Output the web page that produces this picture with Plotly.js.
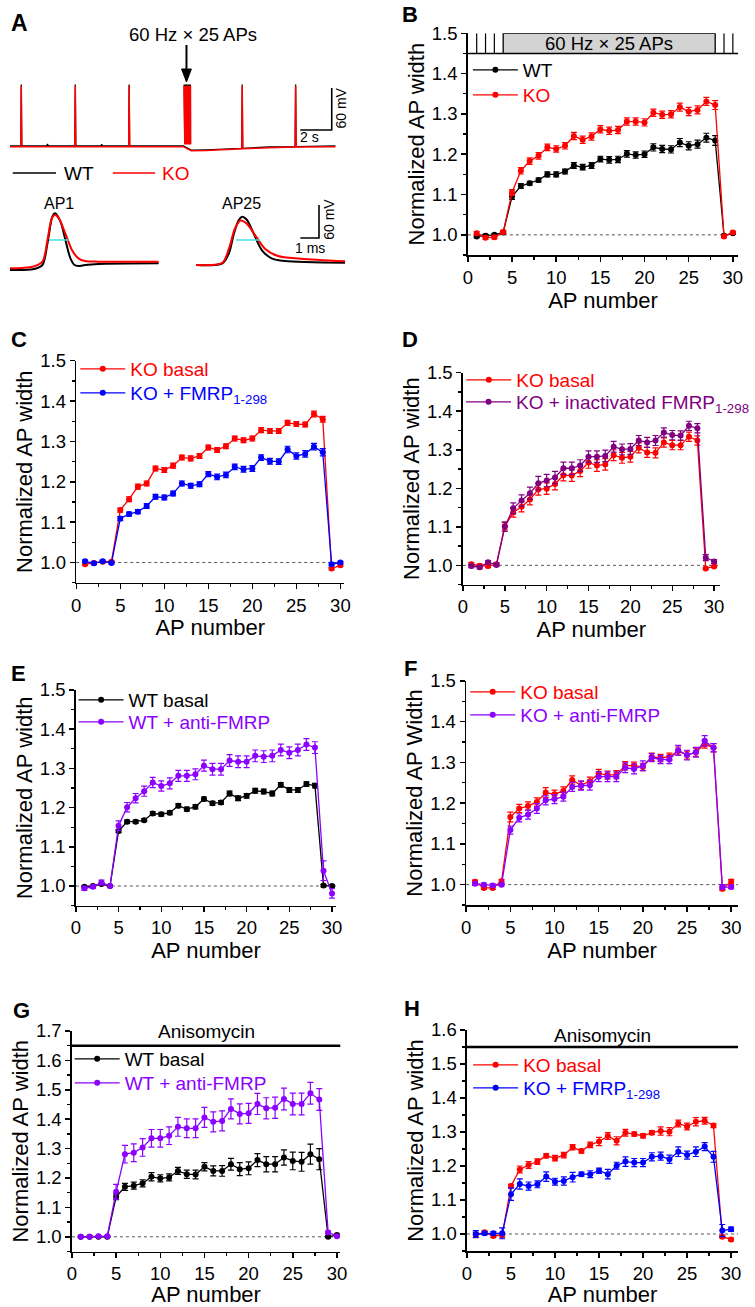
<!DOCTYPE html>
<html><head><meta charset="utf-8">
<script src="https://cdn.plot.ly/plotly-3.0.1.min.js"></script>
<style>html,body{margin:0;padding:0;background:#fff}#chart{width:755px;height:1307px}</style>
</head><body><div id="chart"></div>
<script>
// ================= DATA =================
const apNumber = [1,2,3,4,5,6,7,8,9,10,11,12,13,14,15,16,17,18,19,20,21,22,23,24,25,26,27,28,29,30];

// B
const bWT    = [0.996,0.998,1.000,1.006,1.095,1.121,1.128,1.136,1.150,1.150,1.157,1.172,1.168,1.172,1.188,1.186,1.187,1.201,1.198,1.200,1.217,1.213,1.212,1.229,1.221,1.225,1.241,1.234,0.998,1.004];
const bWTErr = [0.003,0.003,0.003,0.003,0.007,0.006,0.005,0.005,0.006,0.006,0.006,0.007,0.007,0.007,0.007,0.008,0.008,0.008,0.008,0.008,0.009,0.009,0.009,0.010,0.010,0.010,0.011,0.012,0.003,0.003];
const bKO    = [1.004,0.993,0.994,1.007,1.105,1.159,1.183,1.196,1.217,1.213,1.221,1.245,1.236,1.244,1.262,1.258,1.260,1.281,1.281,1.279,1.303,1.298,1.299,1.317,1.306,1.310,1.331,1.322,0.996,1.006];
const bKOErr = [0.004,0.004,0.004,0.004,0.007,0.008,0.008,0.008,0.008,0.008,0.008,0.009,0.009,0.009,0.009,0.009,0.009,0.009,0.009,0.009,0.009,0.009,0.009,0.010,0.010,0.010,0.010,0.011,0.003,0.003];
const stimSingles = [1,2,3,29,30];
const stimTrain = [4,28];

// C
const cKO    = [0.996,0.999,1.002,1.002,1.130,1.157,1.188,1.196,1.233,1.229,1.240,1.260,1.258,1.264,1.285,1.279,1.288,1.307,1.303,1.307,1.328,1.326,1.326,1.346,1.343,1.342,1.368,1.355,0.985,0.993];
const cKOErr = [0.003,0.003,0.003,0.003,0.005,0.006,0.006,0.006,0.006,0.006,0.006,0.006,0.006,0.006,0.006,0.006,0.006,0.006,0.006,0.006,0.006,0.006,0.006,0.006,0.006,0.006,0.007,0.007,0.003,0.003];
const cFM    = [1.003,0.998,1.003,0.999,1.109,1.120,1.126,1.140,1.163,1.161,1.171,1.196,1.190,1.194,1.219,1.212,1.217,1.237,1.231,1.233,1.260,1.251,1.250,1.280,1.264,1.269,1.287,1.273,0.996,1.000];
const cFMErr = [0.003,0.003,0.003,0.003,0.005,0.005,0.005,0.006,0.006,0.006,0.006,0.006,0.006,0.006,0.006,0.007,0.007,0.007,0.007,0.007,0.007,0.007,0.007,0.008,0.008,0.008,0.008,0.009,0.004,0.003];

// D
const dKO    = [1.003,0.999,0.998,1.003,1.102,1.137,1.152,1.171,1.197,1.199,1.211,1.234,1.233,1.245,1.267,1.259,1.262,1.286,1.279,1.282,1.305,1.293,1.292,1.319,1.312,1.312,1.334,1.324,0.992,0.997];
const dKOErr = [0.004,0.004,0.004,0.004,0.010,0.012,0.013,0.014,0.015,0.015,0.015,0.015,0.015,0.015,0.015,0.015,0.015,0.014,0.014,0.014,0.013,0.013,0.013,0.012,0.012,0.012,0.012,0.012,0.003,0.003];
const dIN    = [0.998,0.995,1.008,1.001,1.100,1.148,1.168,1.187,1.213,1.220,1.228,1.252,1.252,1.259,1.282,1.282,1.284,1.308,1.301,1.302,1.324,1.319,1.324,1.345,1.338,1.337,1.362,1.356,1.020,1.010];
const dINErr = [0.004,0.004,0.004,0.004,0.012,0.014,0.015,0.016,0.018,0.016,0.016,0.016,0.016,0.015,0.015,0.015,0.015,0.014,0.014,0.014,0.013,0.013,0.013,0.012,0.012,0.012,0.012,0.012,0.008,0.005];

// E
const eWT    = [0.998,1.000,1.005,1.000,1.140,1.164,1.164,1.168,1.185,1.183,1.187,1.205,1.196,1.202,1.222,1.211,1.213,1.236,1.224,1.230,1.243,1.241,1.236,1.258,1.245,1.245,1.260,1.256,1.001,1.000];
const eWTErr = [0.003,0.003,0.003,0.003,0.004,0.004,0.004,0.004,0.005,0.005,0.005,0.005,0.005,0.005,0.005,0.005,0.005,0.006,0.006,0.006,0.006,0.006,0.006,0.006,0.006,0.006,0.006,0.006,0.003,0.003];
const eAF    = [0.994,0.998,1.009,1.000,1.154,1.201,1.224,1.242,1.264,1.255,1.262,1.281,1.281,1.285,1.307,1.298,1.298,1.320,1.317,1.317,1.332,1.330,1.332,1.347,1.340,1.347,1.361,1.353,1.039,0.981];
const eAFErr = [0.005,0.004,0.006,0.003,0.012,0.012,0.012,0.013,0.013,0.013,0.014,0.014,0.014,0.014,0.014,0.015,0.015,0.015,0.015,0.015,0.015,0.015,0.015,0.015,0.015,0.015,0.015,0.015,0.025,0.012];

// F
const fKO    = [1.007,0.992,0.992,1.008,1.166,1.187,1.193,1.203,1.226,1.222,1.230,1.257,1.244,1.254,1.273,1.269,1.270,1.292,1.292,1.289,1.314,1.311,1.314,1.328,1.318,1.325,1.345,1.336,0.990,1.007];
const fKOErr = [0.004,0.004,0.004,0.005,0.012,0.010,0.010,0.010,0.012,0.010,0.010,0.010,0.010,0.010,0.010,0.010,0.010,0.010,0.009,0.009,0.009,0.009,0.009,0.010,0.010,0.010,0.010,0.010,0.005,0.006];
const fAF    = [1.002,1.000,0.998,1.000,1.134,1.164,1.172,1.187,1.207,1.210,1.216,1.240,1.243,1.244,1.265,1.265,1.265,1.287,1.284,1.292,1.312,1.307,1.307,1.330,1.318,1.325,1.353,1.336,0.994,0.994];
const fAFErr = [0.004,0.004,0.004,0.004,0.010,0.010,0.011,0.012,0.011,0.011,0.011,0.011,0.011,0.012,0.012,0.012,0.012,0.012,0.012,0.012,0.010,0.010,0.010,0.012,0.012,0.012,0.013,0.010,0.006,0.004];

// G
const gWT    = [1.000,1.000,1.000,1.000,1.136,1.170,1.174,1.182,1.204,1.199,1.202,1.224,1.213,1.212,1.238,1.224,1.224,1.247,1.230,1.233,1.261,1.247,1.247,1.270,1.258,1.255,1.281,1.264,1.000,1.006];
const gWTErr = [0.002,0.002,0.002,0.002,0.010,0.012,0.012,0.012,0.014,0.012,0.012,0.012,0.014,0.015,0.014,0.017,0.018,0.020,0.022,0.022,0.022,0.026,0.026,0.026,0.030,0.032,0.034,0.036,0.003,0.003];
const gAF    = [1.000,1.000,1.002,1.002,1.153,1.281,1.286,1.304,1.335,1.335,1.344,1.374,1.369,1.369,1.406,1.391,1.394,1.435,1.418,1.420,1.452,1.437,1.439,1.469,1.452,1.452,1.488,1.467,1.015,1.002];
const gAFErr = [0.002,0.002,0.002,0.002,0.025,0.030,0.030,0.030,0.030,0.030,0.030,0.032,0.032,0.032,0.034,0.034,0.034,0.034,0.034,0.034,0.036,0.036,0.036,0.037,0.037,0.037,0.037,0.037,0.004,0.003];
const gDrugLevel = 1.65;

// H
const hKO    = [0.997,1.005,0.994,0.997,1.141,1.190,1.203,1.213,1.230,1.223,1.232,1.255,1.244,1.262,1.272,1.288,1.274,1.298,1.294,1.289,1.298,1.303,1.301,1.325,1.316,1.330,1.333,1.319,0.992,0.984];
const hKOErr = [0.008,0.004,0.004,0.006,0.005,0.010,0.010,0.008,0.006,0.008,0.008,0.008,0.006,0.008,0.012,0.010,0.012,0.010,0.006,0.006,0.006,0.012,0.012,0.010,0.010,0.012,0.010,0.006,0.004,0.004];
const hFM    = [1.000,1.002,1.002,1.002,1.117,1.147,1.141,1.146,1.169,1.154,1.156,1.167,1.176,1.176,1.186,1.176,1.201,1.213,1.210,1.210,1.227,1.229,1.220,1.242,1.232,1.242,1.257,1.227,1.010,1.014];
const hFMErr = [0.010,0.005,0.005,0.016,0.018,0.015,0.012,0.010,0.014,0.010,0.012,0.014,0.006,0.010,0.008,0.014,0.010,0.014,0.012,0.012,0.012,0.012,0.012,0.014,0.012,0.014,0.012,0.016,0.018,0.006];
const hDrugLevel = 1.55;

// A: membrane potential recordings (time s, mV)
const wtTraceT = [0,0.70,0.73,0.76,2.35,2.40,2.45,4.14,4.17,4.20,5.80,5.85,5.90,7.57,7.60,7.63,11.05,11.55,12.5,13.9,14.77,14.80,14.83,16.5,18.17,18.20,18.23,20.75];
const wtTraceV = [-64,-64,24,-64,-64,-61,-64,-64,24,-64,-64,-61.5,-64,-64,24,-64,-64,-70,-69.5,-68,-67.3,24,-67.3,-65.5,-64.8,24,-64.8,-64];
const koTraceT = [0,0.70,0.73,0.76,4.14,4.17,4.20,7.57,7.60,7.63,11.05,11.55,12.5,13.9,14.77,14.80,14.83,16.5,18.17,18.20,18.23,20.75];
const koTraceV = [-65,-65,22,-65,-65,22,-65,-65,22,-65,-65,-71,-70.5,-69,-68,22,-68,-66.5,-65.5,22,-65.5,-65];
const burstT = [11.100,11.117,11.133,11.150,11.167,11.183,11.200,11.217,11.233,11.250,11.267,11.283,11.300,11.317,11.333,11.350,11.367,11.383,11.400,11.417,11.433,11.450,11.467,11.483,11.500];
const burstPeak = 22, burstTrough = -62;
// A: single APs (time ms, mV)
const ap1WT_t = [0,1.23,1.75,2.02,2.28,2.42,2.72,2.98,3.25,3.47,3.68,4.04,4.74,7.98];
const ap1WT_v = [-73.6,-72.4,-64.5,-25.1,23.3,29.4,14.2,-19.1,-52.4,-64.5,-66.4,-64.5,-62.7,-61.5];
const ap1KO_t = [0,1.23,1.75,2.02,2.25,2.42,2.63,2.98,3.33,3.68,4.04,4.74,7.98];
const ap1KO_v = [-70.6,-67.6,-58.5,-19.1,20.3,26.4,20.3,-7.3,-37.3,-52.4,-57.3,-58.5,-58.5];
const ap25WT_t = [0,1.40,1.75,2.02,2.28,2.46,2.72,3.07,3.51,4.04,4.74,7.98];
const ap25WT_v = [-64.5,-61.5,-43.3,-7.0,17.3,23.3,17.3,-7.0,-37.3,-52.4,-57.3,-60.4];
const ap25KO_t = [0,1.40,1.75,2.07,2.37,2.72,3.16,3.68,4.38,5.61,7.98];
const ap25KO_v = [-64.5,-60.4,-34.8,1.5,16.2,10.2,-10.6,-34.8,-48.2,-53.0,-57.9];
const ap1HalfT = [2.10,3.16], ap25HalfT = [2.14,3.42], halfV = -19.1;
const scaleTop = {s:2, mV:60};
const scaleAP = {ms:1, mV:60};

// ================= LAYOUT HELPERS =================
const W = 755, H = 1307;
const fx = p => p / W;
const fy = p => 1 - p / H;
const FONT = 'Liberation Sans, Arial, Helvetica, sans-serif';
const RED='#ff0000', BLACK='#000000', BLUE='#0000ff', PURPLE='#800080', VIOLET='#8b00ff', CYAN='#3fe3e3';

const panels = [
  {letter:'B', lx:418, ly:14, left:476.7, ppu:9.0, right:752, top:33.3, bottom:255, ymax:1.5, ytitle:'Normalized AP width',
   series:[{name:'WT', y:bWT, e:bWTErr, c:BLACK, ly:70},{name:'KO', y:bKO, e:bKOErr, c:RED, ly:95}], legx:481.7},
  {letter:'C', lx:19, ly:340, left:77.7, ppu:8.97, right:350.7, top:360.7, bottom:582.7, ymax:1.5, ytitle:'Normalized AP width',
   series:[{name:'KO basal', y:cKO, e:cKOErr, c:RED, ly:369},{name:'KO + FMRP<sub>1-298</sub>', y:cFM, e:cFMErr, c:BLUE, ly:393}], legx:81.7},
  {letter:'D', lx:418, ly:340, left:471.7, ppu:8.53, right:733.3, top:372.7, bottom:584.6, ymax:1.5, ytitle:'Normalized AP width',
   series:[{name:'KO basal', y:dKO, e:dKOErr, c:RED, ly:380},{name:'KO + inactivated FMRP<sub>1-298</sub>', y:dIN, e:dINErr, c:PURPLE, ly:402}], legx:475},
  {letter:'E', lx:19, ly:673, left:77.3, ppu:8.7, right:342.5, top:690, bottom:905.6, ymax:1.5, ytitle:'Normalized AP width',
   series:[{name:'WT basal', y:eWT, e:eWTErr, c:BLACK, ly:700},{name:'WT + anti-FMRP', y:eAF, e:eAFErr, c:VIOLET, ly:722}], legx:80},
  {letter:'F', lx:418, ly:668, left:475, ppu:9.0, right:752, top:681, bottom:905, ymax:1.5, ytitle:'Normalized AP Width',
   series:[{name:'KO basal', y:fKO, e:fKOErr, c:RED, ly:692},{name:'KO + anti-FMRP', y:fAF, e:fAFErr, c:VIOLET, ly:715}], legx:479},
  {letter:'G', lx:22, ly:1010, left:73.3, ppu:9.0, right:346.7, top:1031, bottom:1251.5, ymax:1.7, ytitle:'Normalized AP width',
   series:[{name:'WT basal', y:gWT, e:gWTErr, c:BLACK, ly:1059},{name:'WT + anti-FMRP', y:gAF, e:gAFErr, c:VIOLET, ly:1083}], legx:76, drug:gDrugLevel, drugTextY:1031.7},
  {letter:'H', lx:420, ly:1009, left:475.8, ppu:8.97, right:752, top:1030, bottom:1251, ymax:1.6, ytitle:'Normalized AP width',
   series:[{name:'KO basal', y:hKO, e:hKOErr, c:RED, ly:1065},{name:'KO + FMRP<sub>1-298</sub>', y:hFM, e:hFMErr, c:BLUE, ly:1088}], legx:482, drug:hDrugLevel, drugTextY:1035}
];

const layout = {
  width: W, height: H, margin:{l:0,r:0,t:0,b:0},
  paper_bgcolor:'#ffffff', plot_bgcolor:'rgba(0,0,0,0)',
  font:{family:FONT, color:'#000', size:18},
  showlegend:true, shapes:[], annotations:[]
};
const data = [];
let legendCount = 0;

panels.forEach((p, i) => {
  const n = i + 1;
  const xa = 'xaxis' + (n === 1 ? '' : n), ya = 'yaxis' + (n === 1 ? '' : n);
  const xr = 'x' + (n === 1 ? '' : n), yr = 'y' + (n === 1 ? '' : n);
  layout[xa] = {
    domain:[fx(p.left), fx(p.right)], range:[0, (p.right - p.left) / p.ppu], anchor:yr,
    showline:true, linecolor:'#000', linewidth:1.6, mirror:false,
    ticks:'outside', ticklen:5, tickwidth:1.5, tickcolor:'#000', tick0:0, dtick:5,
    minor:{dtick:2.5, ticks:'outside', ticklen:3, tickwidth:1.3, tickcolor:'#000', showgrid:false},
    showgrid:false, zeroline:false, tickfont:{size:18.5, family:FONT},
    title:{text:'AP number', font:{size:22, family:FONT}, standoff:3}
  };
  layout[ya] = {
    domain:[fy(p.bottom), fy(p.top)], range:[0.95, p.ymax], anchor:xr,
    showline:true, linecolor:'#000', linewidth:1.6,
    ticks:'outside', ticklen:5, tickwidth:1.5, tickcolor:'#000', tick0:0, dtick:0.1, tickformat:'.1f',
    minor:{dtick:0.05, ticks:'outside', ticklen:3, tickwidth:1.3, tickcolor:'#000', showgrid:false},
    showgrid:false, zeroline:false, tickfont:{size:18.5, family:FONT},
    title:{text:p.ytitle, font:{size:22, family:FONT}, standoff:1}
  };
  // dotted baseline at 1.0
  layout.shapes.push({type:'line', xref:xr + ' domain', yref:yr, x0:0, x1:1, y0:1, y1:1,
    line:{color:'#555', width:1, dash:'dot'}, layer:'below'});
  p.series.forEach(s => {
    legendCount++;
    const lg = 'legend' + (legendCount === 1 ? '' : legendCount);
    data.push({
      type:'scatter', mode:'lines+markers', x:apNumber, y:s.y, xaxis:xr, yaxis:yr,
      name:s.name, legend:lg,
      line:{color:s.c, width:1.3}, marker:{color:s.c, size:6},
      error_y:{type:'data', array:s.e, visible:true, color:s.c, thickness:1.2, width:3}
    });
    layout[lg] = {x:fx(p.legx - 5), y:fy(s.ly), xanchor:'left', yanchor:'middle',
      bgcolor:'rgba(0,0,0,0)', borderwidth:0, itemwidth:45, font:{size:19, color:s.c, family:FONT},
      itemclick:false, itemdoubleclick:false};
  });
  layout.annotations.push({xref:'paper', yref:'paper', x:fx(p.lx), y:fy(p.ly), xanchor:'center', yanchor:'middle',
    text:'<b>' + p.letter + '</b>', showarrow:false, font:{size:22, family:FONT, color:'#000'}});
  if (p.drug) {
    layout.shapes.push({type:'line', xref:xr + ' domain', yref:yr, x0:0, x1:1, y0:p.drug, y1:p.drug,
      line:{color:'#000', width:2.6}});
    layout.annotations.push({xref:xr + ' domain', yref:'paper', x:0.5, y:fy(p.drugTextY), xanchor:'center', yanchor:'middle',
      text:'Anisomycin', showarrow:false, font:{size:19, family:FONT}});
  }
});

// Panel B stimulation diagram
layout.shapes.push({type:'line', xref:'x domain', yref:'y', x0:0, x1:1, y0:1.45, y1:1.45, line:{color:'#000', width:1.5}});
stimSingles.forEach(t => layout.shapes.push({type:'line', xref:'x', yref:'y', x0:t, x1:t, y0:1.45, y1:1.5, line:{color:'#000', width:1.2}}));
layout.shapes.push({type:'rect', xref:'x', yref:'y', x0:stimTrain[0], x1:stimTrain[1], y0:1.45, y1:1.5,
  fillcolor:'#d3d3d3', line:{color:'#000', width:1.3}});
layout.annotations.push({xref:'x', yref:'y', x:(stimTrain[0] + stimTrain[1]) / 2, y:1.475, text:'60 Hz × 25 APs',
  showarrow:false, font:{size:18.5, family:FONT}});

// ================= PANEL A =================
layout.xaxis8 = {domain:[fx(10), fx(342)], range:[0, 20.75], anchor:'y8', visible:false, fixedrange:true};
layout.yaxis8 = {domain:[fy(155), fy(80)], range:[-76.9, 30.3], anchor:'x8', visible:false, fixedrange:true};
layout.xaxis9 = {domain:[fx(10), fx(352)], range:[0, 18], anchor:'y9', visible:false, fixedrange:true};
layout.yaxis9 = {domain:[fy(275), fy(200)], range:[-82.7, 53.6], anchor:'x9', visible:false, fixedrange:true};

function burstPath(peak, trough) {
  const xs = [], ys = [];
  burstT.forEach(t => { xs.push(t); ys.push(peak); xs.push(t + 0.008); ys.push(trough); });
  return {x:xs, y:ys};
}
const wb = burstPath(burstPeak + 2, burstTrough + 1), kb = burstPath(burstPeak, burstTrough);
const aTrace = (x, y, c, w, ax, shape) => ({type:'scatter', mode:'lines', x, y, xaxis:'x'+ax, yaxis:'y'+ax,
  line:{color:c, width:w, shape:shape || 'linear', smoothing:0.8}, showlegend:false, hoverinfo:'skip'});
data.push(aTrace(wtTraceT, wtTraceV, BLACK, 1.3, 8));
data.push(aTrace(wb.x, wb.y, BLACK, 1.3, 8));
data.push(aTrace(koTraceT, koTraceV, RED, 1.5, 8));
data.push(aTrace(kb.x, kb.y, RED, 1.5, 8));
const sbT0 = 18.5, sbV0 = -41.1;
data.push(aTrace([sbT0, sbT0 + scaleTop.s, sbT0 + scaleTop.s], [sbV0, sbV0, sbV0 + scaleTop.mV], BLACK, 1.6, 8));
const ap25Offset = 10;
data.push(aTrace(ap1WT_t, ap1WT_v, BLACK, 2, 9, 'spline'));
data.push(aTrace(ap1KO_t, ap1KO_v, RED, 2, 9, 'spline'));
data.push(aTrace(ap25WT_t.map(t => t + ap25Offset), ap25WT_v, BLACK, 2, 9, 'spline'));
data.push(aTrace(ap25KO_t.map(t => t + ap25Offset), ap25KO_v, RED, 2, 9, 'spline'));
data.push(aTrace(ap1HalfT, [halfV, halfV], CYAN, 1.3, 9));
data.push(aTrace(ap25HalfT.map(t => t + ap25Offset), [halfV, halfV], CYAN, 1.3, 9));
const sbA0 = 15.58, sbAV0 = -15.5;
data.push(aTrace([sbA0, sbA0 + scaleAP.ms, sbA0 + scaleAP.ms], [sbAV0, sbAV0, sbAV0 + scaleAP.mV], BLACK, 1.6, 9));

// A annotations
const paperAnn = (px, py, text, size, color, extra) => Object.assign({xref:'paper', yref:'paper', x:fx(px), y:fy(py),
  xanchor:'center', yanchor:'middle', text, showarrow:false, font:{size, family:FONT, color:color || '#000'}}, extra || {});
layout.annotations.push(paperAnn(20, 23, '<b>A</b>', 23));
layout.annotations.push(paperAnn(197, 35, '60 Hz × 25 APs', 18.5));
// stimulus arrow
layout.shapes.push({type:'line', xref:'paper', yref:'paper', x0:fx(190), x1:fx(190), y0:fy(45), y1:fy(72), line:{color:'#000', width:2}});
layout.shapes.push({type:'path', xref:'paper', yref:'paper',
  path:`M ${fx(190)} ${fy(82)} L ${fx(185)} ${fy(69)} L ${fx(195)} ${fy(69)} Z`, fillcolor:'#000', line:{color:'#000', width:1}});
layout.annotations.push(paperAnn(315.5, 137, '2 s', 14));
layout.annotations.push(paperAnn(347, 108, '60 mV', 14, '#000', {textangle:-90}));
layout.annotations.push(paperAnn(60, 204, 'AP1', 16));
layout.annotations.push(paperAnn(246, 204, 'AP25', 16));
layout.annotations.push(paperAnn(316, 248, '1 ms', 14));
layout.annotations.push(paperAnn(335, 219, '60 mV', 14, '#000', {textangle:-90}));
layout.annotations.push(paperAnn(63, 173, 'WT', 19, '#000', {xanchor:'left'}));
layout.annotations.push(paperAnn(163, 173, 'KO', 19, RED, {xanchor:'left'}));
layout.shapes.push({type:'line', xref:'paper', yref:'paper', x0:fx(13), x1:fx(57), y0:fy(173), y1:fy(173), line:{color:'#000', width:1.5}});
layout.shapes.push({type:'line', xref:'paper', yref:'paper', x0:fx(115), x1:fx(158), y0:fy(173), y1:fy(173), line:{color:RED, width:1.5}});

Plotly.newPlot('chart', data, layout, {displayModeBar:false, staticPlot:true});
</script>
</body></html>
